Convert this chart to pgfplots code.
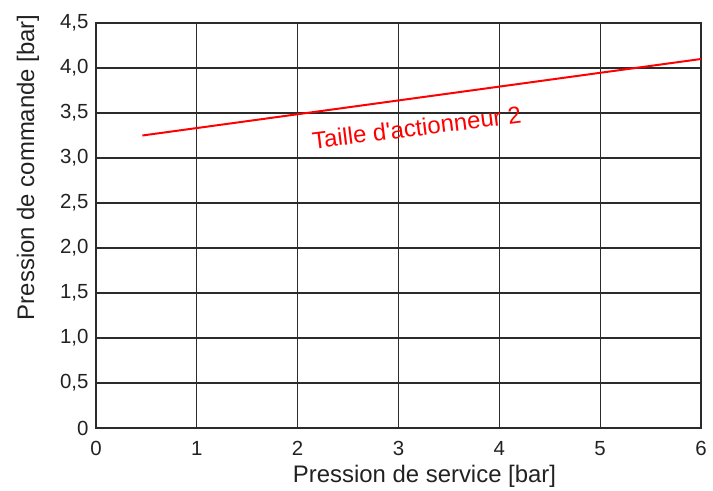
\documentclass[border=0pt]{standalone}
\usepackage{pgfplots}
\pgfplotsset{compat=1.18}
\usepackage{fontspec}
\setmainfont{Liberation Sans}
\definecolor{gridc}{HTML}{2B2B2B}
\definecolor{txt}{HTML}{222222}
\definecolor{lred}{HTML}{FF0000}
\begin{document}
\begin{tikzpicture}
\begin{axis}[
  scale only axis,
  width=605bp, height=405bp,
  xmin=0, xmax=6, ymin=0, ymax=4.5,
  xtick={0,1,2,3,4,5,6},
  xticklabels={0,1,2,3,4,5,6},
  ytick={0,0.5,1,1.5,2,2.5,3,3.5,4,4.5},
  yticklabels={0,{0,5},{1,0},{1,5},{2,0},{2,5},{3,0},{3,5},{4,0},{4,5}},
  /pgf/number format/assume math mode=true,
  major tick length=0pt,
  grid=major,
  major grid style={gridc, line width=1.1pt},
  axis line style={gridc, line width=1.4pt},
  ticklabel style={font=\fontsize{20.5}{22}\selectfont, text=txt},
  xticklabel style={anchor=base, yshift=-27bp},
  yticklabel style={anchor=east, xshift=-4bp},
  xlabel={Pression de service [bar]},
  ylabel={Pression de commande [bar]},
  every axis x label/.style={at={(axis description cs:0.543,-0.1185)}, anchor=center, font=\fontsize{24}{26}\selectfont, text=txt},
  every axis y label/.style={at={(axis description cs:-0.1124,0.644)}, anchor=center, rotate=90, font=\fontsize{24}{26}\selectfont, text=txt},
  clip=false,
]
\addplot[lred, line width=2pt] coordinates {(0.46,3.25) (6,4.10)};
\node[lred, rotate=7.2, font=\fontsize{24}{26}\selectfont] at (axis cs:3.18,3.34) {Taille d\textquotesingle actionneur 2};
\end{axis}
\pgfresetboundingbox
\path (current axis.south west) ++(-96bp,-62bp) coordinate (bl);
\path (current axis.north east) ++(12bp,23bp) coordinate (tr);
\path[use as bounding box] (bl) rectangle (tr);
\end{tikzpicture}
\end{document}
